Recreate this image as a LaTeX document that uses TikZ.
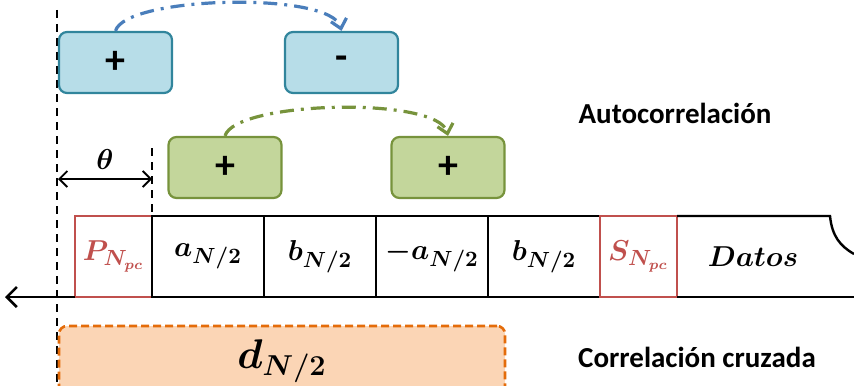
\documentclass[tikz,border=0pt]{standalone}
\usepackage{amsmath,bm}
\usepackage{fontspec}
\setmainfont{Carlito}
\usetikzlibrary{arrows.meta,positioning}

\definecolor{azulF}{HTML}{B7DDE8}
\definecolor{azulB}{HTML}{31859C}
\definecolor{azulL}{HTML}{4A7EBB}
\definecolor{verdeF}{HTML}{C3D69B}
\definecolor{verdeB}{HTML}{77933C}
\definecolor{naranjaF}{HTML}{FBD5B5}
\definecolor{naranjaB}{HTML}{E46C0A}
\definecolor{rojo}{HTML}{C0504D}

\tikzset{
  caja/.style={draw, rounded corners=4pt, line width=1.1pt, minimum width=56.5pt,
    minimum height=30.5pt, font=\fontsize{20}{20}\selectfont\bfseries},
  cajaA/.style={caja, draw=azulB, fill=azulF},
  cajaV/.style={caja, draw=verdeB, fill=verdeF},
  celda/.style={draw, line width=1.2pt, minimum width=56pt, minimum height=40.5pt,
    inner sep=0pt, outer sep=0pt, font=\fontsize{15}{15}\selectfont},
  celdaR/.style={celda, draw=rojo, text=rojo, minimum width=38.5pt},
  salto/.style={line width=1.6pt, dash pattern=on 7pt off 3.5pt on 1.5pt off 3.5pt,
    -{Straight Barb[length=4.5pt,width=8pt]}},
  guia/.style={line width=0.7pt, dash pattern=on 4pt off 3pt},
  titulo/.style={font=\fontsize{14.5}{16}\selectfont\bfseries},
}

\begin{document}
\begin{tikzpicture}[x=0.5pt, y=-0.5pt]
\useasboundingbox (0,0) rectangle (854,385);
\clip (0,0) rectangle (854,385);

% reference lines
\coordinate (ref0) at (57,10);
\coordinate (ref1) at (57,385);
\coordinate (th0) at (152,148);
\draw[guia] (ref0) -- (ref1);

% autocorrelation boxes
\node[cajaA] (b1) at (115.5,62.5) {+};
\node[cajaA] (b2) at (341.5,62.5) {-};
\node[cajaV] (g1) at (225,167.5) {+};
\node[cajaV] (g2) at (448,167.5) {+};
\draw[salto, azulL] (b1.north) .. controls +(10,-35) and +(-10,-40) .. (b2.north);
\draw[salto, verdeB] (g1.north) .. controls +(10,-35) and +(-10,-40) .. (g2.north);
\node[titulo] (auto) at (675,113) {Autocorrelación};

% frame
\node[celdaR] (P) at (113.5,256.5) {$\bm{P}_{\bm{N_{pc}}}$};
\node[celda, right=0pt of P] (a1) {$\bm{a}_{\bm{N/2}}$};
\node[celda, right=0pt of a1] (b1c) {$\bm{b}_{\bm{N/2}}$};
\node[celda, right=0pt of b1c] (a2) {$\bm{-a}_{\bm{N/2}}$};
\node[celda, right=0pt of a2] (b2c) {$\bm{b}_{\bm{N/2}}$};
\node[celdaR, right=0pt of b2c] (S) {$\bm{S}_{\bm{N_{pc}}}$};
\coordinate (dA) at (830,216);
\coordinate (dB) at (854,254);
\coordinate (dC) at (854,297);
\draw[line width=1.2pt] (S.north east) -- (dA) .. controls (832,236) and (840,246) .. (dB);
\draw[line width=1.2pt] (S.south east) -- (dC);
\node[font=\fontsize{15}{15}\selectfont] (datos) at (753,257) {$\bm{Datos}$};

% time arrow
\coordinate (izq) at (5,297);
\draw[line width=1.3pt, -{Straight Barb[length=5pt,width=10pt]}] (P.south west) -- (izq);

% offset theta
\draw[guia] (th0) -- (P.north east);
\coordinate (tA) at (58,179);
\coordinate (tB) at (152,179);
\draw[line width=0.9pt, {Straight Barb[length=4pt,width=8pt]}-{Straight Barb[length=4pt,width=8pt]}] (tA) -- node[above=1pt, font=\fontsize{15}{15}\selectfont] (theta) {$\bm{\theta}$} (tB);

% cross correlation
\node[draw=naranjaB, fill=naranjaF, line width=1.3pt, dash pattern=on 4pt off 2pt,
  rounded corners=4pt, minimum width=223pt, minimum height=35pt,
  font=\fontsize{21}{21}\selectfont] (d) at (282,361) {$\bm{d}_{\bm{N/2}}$};
\node[titulo] (cruz) at (697,357) {Correlación cruzada};
\end{tikzpicture}
\end{document}
